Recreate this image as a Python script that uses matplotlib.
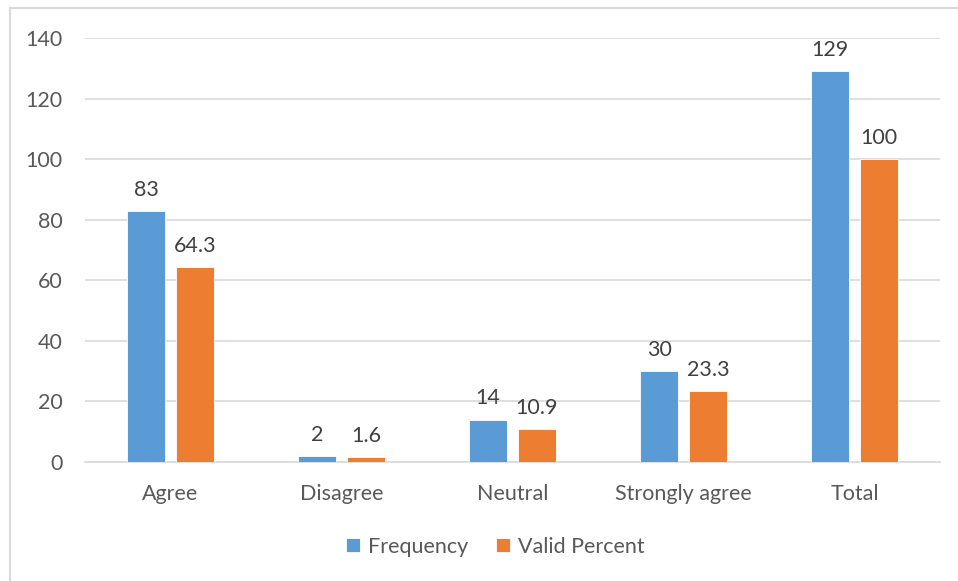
import matplotlib.pyplot as plt
import numpy as np
from matplotlib.lines import Line2D

categories = ["Agree", "Disagree", "Neutral", "Strongly agree", "Total"]
frequency = [83, 2, 14, 30, 129]
valid_percent = [64.3, 1.6, 10.9, 23.3, 100]
freq_labels = ["83", "2", "14", "30", "129"]
pct_labels = ["64.3", "1.6", "10.9", "23.3", "100"]

BLUE = "#5B9BD5"
ORANGE = "#ED7D31"
TEXT = "#595959"
GRID = "#D9D9D9"
FS = 15.5

plt.rcParams['font.family'] = ['Lato', 'DejaVu Sans']

fig = plt.figure(figsize=(9.58, 5.81), dpi=100)
ax = fig.add_axes([85 / 958, 119 / 581, 855 / 958, 424 / 581])

x = np.arange(len(categories))
w = 0.222
off = 0.143
b1 = ax.bar(x - off, frequency, w, color=BLUE, edgecolor="white", linewidth=0.6, label="Frequency", zorder=3)
b2 = ax.bar(x + off, valid_percent, w, color=ORANGE, edgecolor="white", linewidth=0.6, label="Valid Percent", zorder=3)

ax.bar_label(b1, labels=freq_labels, padding=8, fontsize=FS, color="#404040")
ax.bar_label(b2, labels=pct_labels, padding=8, fontsize=FS, color="#404040")

ax.set_xlim(-0.5, len(categories) - 0.5)
ax.set_ylim(0, 140)
ax.set_yticks(range(0, 141, 20))
ax.set_xticks(x)
ax.set_xticklabels(categories)
ax.tick_params(axis="both", length=0, labelsize=FS, labelcolor=TEXT)
ax.tick_params(axis="y", pad=16)
ax.tick_params(axis="x", pad=16)
ax.grid(axis="y", color=GRID, linewidth=1.2, zorder=0)
for side in ["top", "right", "left"]:
    ax.spines[side].set_visible(False)
ax.spines["bottom"].set_color(GRID)
ax.spines["bottom"].set_linewidth(1.2)

ax.legend(loc="center", bbox_to_anchor=(0.48, -0.2), ncol=2, frameon=False,
          fontsize=FS, labelcolor=TEXT, handlelength=0.65, handleheight=0.65,
          handletextpad=0.35, columnspacing=1.3)

# chart area outline (left and top edges)
fig.add_artist(Line2D([10 / 958, 10 / 958], [0, 1 - 8 / 581], color=GRID, linewidth=1.5))
fig.add_artist(Line2D([10 / 958, 1], [1 - 8 / 581, 1 - 8 / 581], color=GRID, linewidth=1.5))

fig.savefig("out.png", dpi=100)
